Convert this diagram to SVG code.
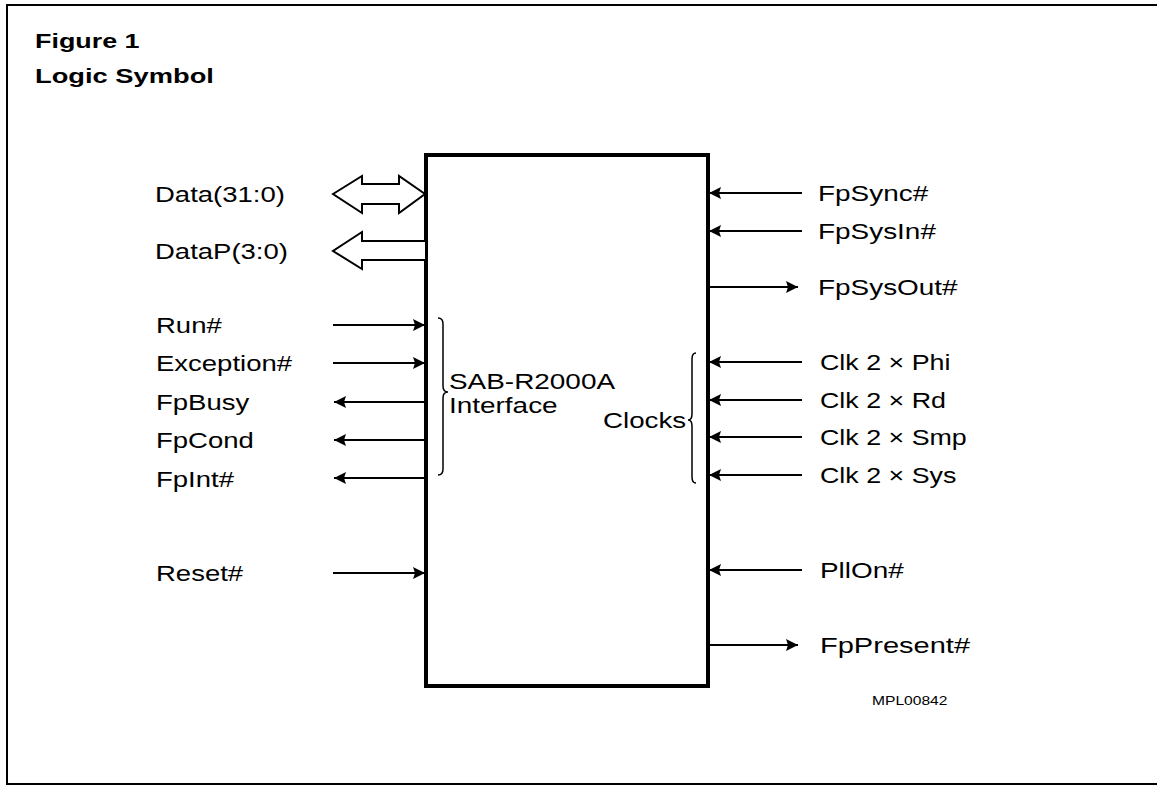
<svg xmlns="http://www.w3.org/2000/svg" width="1157" height="791" viewBox="0 0 1157 791">
<style>
.t{font-family:"Liberation Sans",Arial,sans-serif;font-size:22px;fill:#000}
.b{font-family:"Liberation Sans",Arial,sans-serif;font-size:21px;font-weight:bold;fill:#000}
.s{font-family:"Liberation Sans",Arial,sans-serif;font-size:13px;fill:#000}
.ln{stroke:#000;stroke-width:2;fill:none}
.bus{stroke:#000;stroke-width:2;fill:#fff;stroke-linejoin:miter}
.br{stroke:#000;stroke-width:1.5;fill:none}
</style>
<defs>
<marker id="ah" viewBox="0 0 12 12" refX="12" refY="6" markerWidth="12" markerHeight="12" markerUnits="userSpaceOnUse" orient="auto"><path d="M0,0 L12,6 L0,12 L2,6 z" fill="#000"/></marker>
</defs>
<rect width="1157" height="791" fill="#fff"/>
<g id="frame"><path d="M1157,5 L7,5 L7,784 L1157,784" stroke="#000" stroke-width="2" fill="none"/></g>
<g id="title">
<text class="b" transform="translate(35,48) scale(1.28,1)">Figure 1</text>
<text class="b" transform="translate(35,83) scale(1.3,1)">Logic Symbol</text>
</g>
<g id="chip">
<rect x="426" y="155" width="282" height="531" stroke="#000" stroke-width="4" fill="none"/>
<path class="br" d="M438,318 Q443,318 443,324 L443,386 Q443,392 448,392 Q443,392 443,398 L443,469 Q443,475 438,475"/>
<text class="t" transform="translate(449,389) scale(1.27,1)">SAB-R2000A</text>
<text class="t" transform="translate(449,413) scale(1.27,1)">Interface</text>
<path class="br" d="M696,353 Q692,353 692,359 L692,414 Q692,420 688,420 Q692,420 692,426 L692,477 Q692,483 696,483"/>
<text class="t" transform="translate(603,428) scale(1.26,1)">Clocks</text>
<text class="s" transform="translate(872,705) scale(1.2,1)">MPL00842</text>
</g>
<g id="connectors">
<polygon class="bus" points="333,194 362,176 362,184 399,184 399,176 425,194 399,213 399,204 362,204 362,213"/>
<path class="bus" d="M425,241 L362,241 L362,232 L333,251 L362,269 L362,260 L425,260"/>
<line class="ln" x1="333" y1="325" x2="425" y2="325" marker-end="url(#ah)"/>
<line class="ln" x1="333" y1="363" x2="425" y2="363" marker-end="url(#ah)"/>
<line class="ln" x1="426" y1="402" x2="334" y2="402" marker-end="url(#ah)"/>
<line class="ln" x1="426" y1="440" x2="334" y2="440" marker-end="url(#ah)"/>
<line class="ln" x1="426" y1="478" x2="334" y2="478" marker-end="url(#ah)"/>
<line class="ln" x1="333" y1="573" x2="425" y2="573" marker-end="url(#ah)"/>
<line class="ln" x1="802" y1="193" x2="709" y2="193" marker-end="url(#ah)"/>
<line class="ln" x1="802" y1="231" x2="709" y2="231" marker-end="url(#ah)"/>
<line class="ln" x1="708" y1="287" x2="798" y2="287" marker-end="url(#ah)"/>
<line class="ln" x1="802" y1="362" x2="709" y2="362" marker-end="url(#ah)"/>
<line class="ln" x1="802" y1="400" x2="709" y2="400" marker-end="url(#ah)"/>
<line class="ln" x1="802" y1="437" x2="709" y2="437" marker-end="url(#ah)"/>
<line class="ln" x1="802" y1="475" x2="709" y2="475" marker-end="url(#ah)"/>
<line class="ln" x1="802" y1="570" x2="709" y2="570" marker-end="url(#ah)"/>
<line class="ln" x1="708" y1="645" x2="798" y2="645" marker-end="url(#ah)"/>
</g>
<g id="left-labels">
<text class="t" transform="translate(155,202) scale(1.25,1)">Data(31:0)</text>
<text class="t" transform="translate(155,259) scale(1.25,1)">DataP(3:0)</text>
<text class="t" transform="translate(156,333) scale(1.25,1)">Run#</text>
<text class="t" transform="translate(156,371) scale(1.25,1)">Exception#</text>
<text class="t" transform="translate(156,410) scale(1.25,1)">FpBusy</text>
<text class="t" transform="translate(156,448) scale(1.25,1)">FpCond</text>
<text class="t" transform="translate(156,487) scale(1.25,1)">FpInt#</text>
<text class="t" transform="translate(156,581) scale(1.25,1)">Reset#</text>
</g>
<g id="right-labels">
<text class="t" transform="translate(818,201) scale(1.27,1)">FpSync#</text>
<text class="t" transform="translate(818,239) scale(1.27,1)">FpSysIn#</text>
<text class="t" transform="translate(818,295) scale(1.27,1)">FpSysOut#</text>
<text class="t" transform="translate(820,370) scale(1.22,1)">Clk 2 × Phi</text>
<text class="t" transform="translate(820,408) scale(1.22,1)">Clk 2 × Rd</text>
<text class="t" transform="translate(820,445) scale(1.22,1)">Clk 2 × Smp</text>
<text class="t" transform="translate(820,483) scale(1.22,1)">Clk 2 × Sys</text>
<text class="t" transform="translate(820,578) scale(1.27,1)">PllOn#</text>
<text class="t" transform="translate(820,653) scale(1.32,1)">FpPresent#</text>
</g>
</svg>
